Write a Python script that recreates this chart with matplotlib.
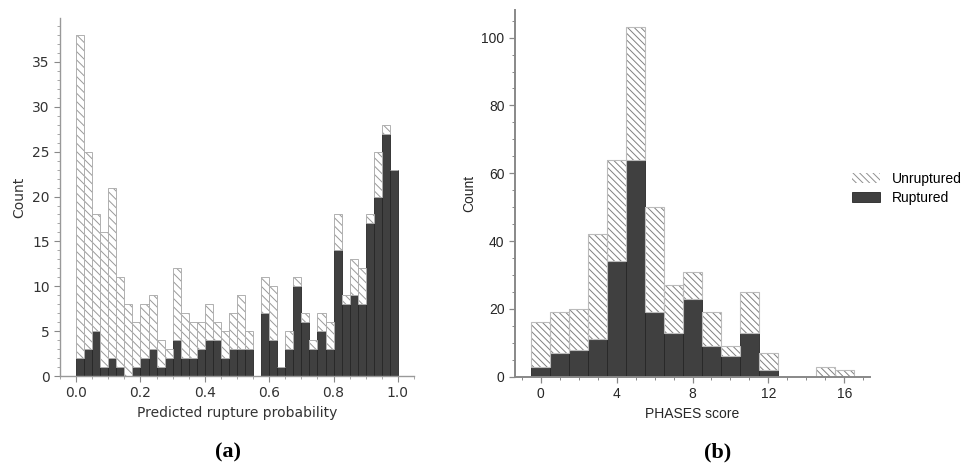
import numpy as np
import matplotlib
matplotlib.use("Agg")
import matplotlib.pyplot as plt
from matplotlib.patches import Patch
from matplotlib.ticker import MultipleLocator

# ---- data: panel (a), 40 bins of width 0.025 over [0, 1]
bin_width_a = 0.025
ruptured_a = [2, 3, 5, 1, 2, 1, 0, 1, 2, 3, 1, 2, 4, 2, 2, 3, 4, 4, 2, 3,
              3, 3, 0, 7, 4, 1, 3, 10, 6, 3, 5, 3, 14, 8, 9, 8, 17, 20, 27, 23]
unruptured_a = [36, 22, 13, 15, 19, 10, 8, 5, 6, 6, 3, 1, 8, 5, 4, 3, 4, 2, 3, 4,
                6, 2, 0, 4, 6, 0, 2, 1, 1, 1, 2, 3, 4, 1, 4, 4, 1, 5, 1, 0]

# ---- data: panel (b), PHASES score 0..16
scores_b = list(range(17))
ruptured_b = [3, 7, 8, 11, 34, 64, 19, 13, 23, 9, 6, 13, 2, 0, 0, 0, 0]
unruptured_b = [13, 12, 12, 31, 30, 39, 31, 14, 8, 10, 3, 12, 5, 0, 0, 3, 2]

labels = ["Unruptured", "Ruptured"]

DARK = "#404040"
plt.rcParams["hatch.linewidth"] = 0.7

fig = plt.figure(figsize=(9.63, 4.66), dpi=100)

# ================= panel (a) =================
ax1 = fig.add_axes([60/963, 1-376/466, 354/963, 358/466])
left_a = np.arange(len(ruptured_a)) * bin_width_a
ax1.bar(left_a, ruptured_a, width=bin_width_a, align="edge", color=DARK,
        edgecolor="#262626", linewidth=0.6)
ax1.bar(left_a, unruptured_a, width=bin_width_a, align="edge", bottom=ruptured_a,
        color="white", edgecolor="#999999", hatch="\\\\\\\\", linewidth=0)
ax1.bar(left_a, unruptured_a, width=bin_width_a, align="edge", bottom=ruptured_a,
        fill=False, edgecolor="#b0b0b0", linewidth=0.7)
ax1.set_xlim(-0.05, 1.05)
tot_a = np.array(ruptured_a) + np.array(unruptured_a)
ax1.set_ylim(0, tot_a.max() * 1.05)
ax1.xaxis.set_major_locator(MultipleLocator(0.2))
ax1.xaxis.set_minor_locator(MultipleLocator(0.05))
ax1.yaxis.set_major_locator(MultipleLocator(5))
ax1.yaxis.set_minor_locator(MultipleLocator(1))
for s in ["top", "right"]:
    ax1.spines[s].set_visible(False)
for s in ["left", "bottom"]:
    ax1.spines[s].set_color("#999999")
    ax1.spines[s].set_linewidth(1.0)
ax1.tick_params(which="major", length=4, width=0.8, color="#888888",
                labelsize=10, labelcolor="#333333")
ax1.tick_params(which="minor", length=2, width=0.6, color="#999999")
ax1.set_xlabel("Predicted rupture probability", fontsize=10, color="#333333")
ax1.set_ylabel("Count", fontsize=10, color="#333333")

# ================= panel (b) =================
ax2 = fig.add_axes([515/963, 1-376.7/466, 355/963, 366.7/466])
ax2.bar(scores_b, ruptured_b, width=1.0, color=DARK, edgecolor="#262626",
        linewidth=0.6)
ax2.bar(scores_b, unruptured_b, width=1.0, bottom=ruptured_b, color="white",
        edgecolor="#808080", hatch="\\\\\\\\\\", linewidth=0)
ax2.bar(scores_b, unruptured_b, width=1.0, bottom=ruptured_b, fill=False,
        edgecolor="#bbbbbb", linewidth=0.8)
ax2.set_xlim(-1.35, 17.35)
tot_b = np.array(ruptured_b) + np.array(unruptured_b)
ax2.set_ylim(0, tot_b.max() * 1.05)
ax2.xaxis.set_major_locator(MultipleLocator(4))
ax2.xaxis.set_minor_locator(MultipleLocator(1))
ax2.yaxis.set_major_locator(MultipleLocator(20))
ax2.yaxis.set_minor_locator(MultipleLocator(5))
for s in ["top", "right"]:
    ax2.spines[s].set_visible(False)
for s in ["left", "bottom"]:
    ax2.spines[s].set_color("#888888")
    ax2.spines[s].set_linewidth(1.4)
ax2.tick_params(which="major", length=4, width=0.9, color="#888888",
                labelsize=10, labelcolor="#262626")
ax2.tick_params(which="minor", length=2, width=0.7, color="#888888")
for lab in ax2.get_xticklabels() + ax2.get_yticklabels():
    lab.set_fontfamily("Liberation Sans")
ax2.set_xlabel("PHASES score", fontsize=10, color="#262626", family="Liberation Sans")
ax2.set_ylabel("Count", fontsize=10, color="#262626", family="Liberation Sans")

handles = [Patch(facecolor="white", edgecolor="#909090", hatch="\\\\\\\\\\", linewidth=0),
           Patch(facecolor=DARK, edgecolor="#262626", linewidth=0.6)]
fig.legend(handles, labels, loc="upper left", bbox_to_anchor=(852/963, 1-172/466),
           frameon=False, borderpad=0, borderaxespad=0, labelspacing=0.35,
           handletextpad=0.9, prop={"family": "Liberation Sans", "size": 10})

fig.text(228/963, 1-452/466, "(a)", ha="center", va="center", fontsize=16,
         fontweight="bold", family="Liberation Serif")
fig.text(718/963, 1-452/466, "(b)", ha="center", va="center", fontsize=16,
         fontweight="bold", family="Liberation Serif")

fig.savefig("out.png", dpi=100)
